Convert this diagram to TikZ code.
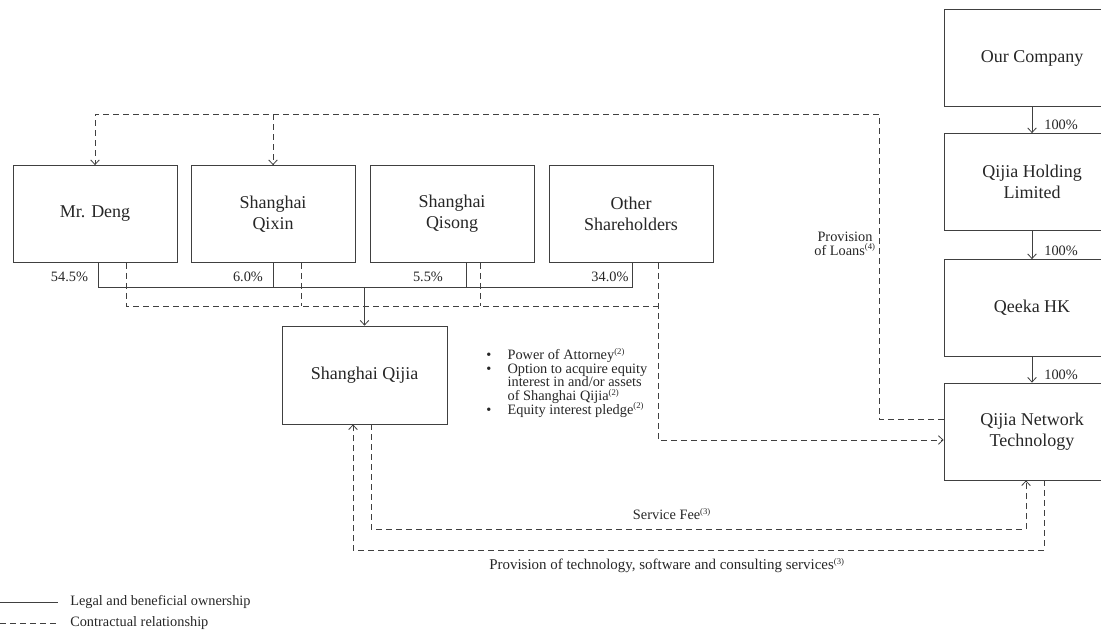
\documentclass[tikz,border=0pt]{standalone}
\usepackage{fontspec}
\setmainfont{Liberation Serif}
\usetikzlibrary{arrows.meta,calc}
\newcommand\noteref[1]{\smash{\textsuperscript{\fontsize{6.5}{6.5}\selectfont(#1)}}}
\tikzset{
  entity/.style={draw=black!75, line width=0.6pt, minimum width=123pt, minimum height=72.75pt,
    align=center, inner sep=0pt, text=black!85, font=\fontsize{13.5}{16}\selectfont},
  rightbox/.style={entity, minimum width=132pt},
  own/.style={draw=black!75, line width=0.6pt},
  contract/.style={own, dash pattern=on 4.5pt off 3pt},
  note/.style={text=black!85, inner sep=0pt, font=\fontsize{10.75}{10.3}\selectfont},
  >={Straight Barb[length=3.5pt,width=6.5pt]}
}
\begin{document}
\begin{tikzpicture}[x=0.75pt,y=-0.75pt]
  \useasboundingbox (0,0) rectangle (1101,643);
  % Shareholders
  \node[entity] (deng)   at (95,214)  {Mr. Deng};
  \node[entity] (qixin)  at (273,214) {Shanghai\\Qixin};
  \node[entity] (qisong) at (452,214) {Shanghai\\Qisong};
  \node[entity] (others) at (631,214) {Other\\Shareholders};
  \node[entity, minimum width=123.75pt, minimum height=73.5pt] (qijia) at (364.5,375) {Shanghai Qijia};
  % Offshore chain
  \node[rightbox] (ourco)   at (1032,58)    {Our Company};
  \node[rightbox] (holding) at (1032,182)   {Qijia Holding\\Limited};
  \node[rightbox] (qeeka)   at (1032,308)   {Qeeka HK};
  \node[rightbox] (network) at (1032,431.5) {Qijia Network\\Technology};
  \draw[own,->] (ourco) -- (holding) node[note, pos=0.7, right=9pt] {100\%};
  \draw[own,->] (holding) -- (qeeka) node[note, pos=0.7, right=9pt] {100\%};
  \draw[own,->] (qeeka) -- (network) node[note, pos=0.7, right=9pt] {100\%};
  % Ownership of Shanghai Qijia
  \coordinate (bar) at (0,287);
  \draw[own] ($(deng.south)+(3,0)$) |- ($(others.south)+(1,24)$) -- ($(others.south)+(1,0)$);
  \draw[own] (qixin.south) -- (qixin.south |- bar);
  \draw[own] ($(qisong.south)+(14,0)$) -- ++(0,24);
  \draw[own,->] (qijia.north |- bar) -- (qijia.north);
  \node[note] (pdeng)   at (69.5,277) {54.5\%};
  \node[note] (pqixin)  at (248,277)  {6.0\%};
  \node[note] (pqisong) at (428,277)  {5.5\%};
  \node[note] (pothers) at (610,277)  {34.0\%};
  % Contractual arrangements
  \draw[contract] ($(deng.south)+(31,0)$) |- ($(others.south)+(27,43)$);
  \draw[contract] ($(qixin.south)+(28,0)$) -- ++(0,43);
  \draw[contract] ($(qisong.south)+(28,0)$) -- ++(0,43);
  \draw[contract,->] ($(others.south)+(27,0)$) |- ($(network.west)+(0,8.5)$);
  \node[note, align=left, anchor=north west] (rights) at (486,349) {%
    \makebox[16pt][l]{\textbullet}Power of Attorney\noteref{2}\\
    \makebox[16pt][l]{\textbullet}Option to acquire equity\\
    \hspace*{16pt}interest in and/or assets\\
    \hspace*{16pt}of Shanghai Qijia\noteref{2}\\
    \makebox[16pt][l]{\textbullet}Equity interest pledge\noteref{2}};
  % Loans
  \coordinate (loanbend) at (879,114);
  \draw[contract,->] ($(network.west)+(0,-12.5)$) -| (loanbend) -| (deng.north);
  \draw[contract,->] (qixin.north |- loanbend) -- (qixin.north);
  \node[note, align=center] (loans) at (845,243.5) {Provision\\of Loans\noteref{4}};
  % Service agreements
  \draw[contract,->] ($(qijia.south)+(6.5,0)$) |- ($(network.south)+(-6,49)$) -- ($(network.south)+(-6,0)$);
  \draw[contract,->] ($(network.south)+(12,0)$) |- ($(qijia.south)+(-11.5,126)$) -- ($(qijia.south)+(-11.5,0)$);
  \node[note] (fee)  at (672,515) {Service Fee\noteref{3}};
  \node[note, font=\fontsize{11.2}{12}\selectfont] (tech) at (667,566) {Provision of technology, software and consulting services\noteref{3}};
  % Legend
  \node[note, anchor=west] (legown) at (70,602) {Legal and beneficial ownership};
  \node[note, anchor=west] (legcon) at (70,623) {Contractual relationship};
  \draw[own] ($(legown.west)+(-70,0)$) -- ++(58,0);
  \draw[contract] ($(legcon.west)+(-70,0)$) -- ++(58,0);
\end{tikzpicture}
\end{document}
